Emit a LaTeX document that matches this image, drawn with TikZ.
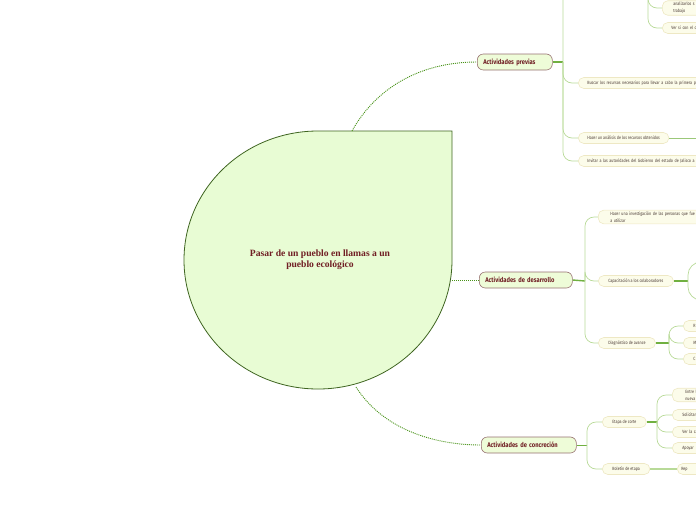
\documentclass[tikz,border=0pt]{standalone}
\usepackage{fontspec}
\setmainfont{Liberation Serif}
\newfontfamily\leaffont[FakeStretch=0.8]{Fira Sans}
\newfontfamily\branchfont[FakeStretch=0.85]{Fira Sans}
\definecolor{rootfill}{RGB}{232,252,212}
\definecolor{rootline}{RGB}{62,100,32}
\definecolor{titlered}{RGB}{112,30,36}
\definecolor{branchfill}{RGB}{238,252,216}
\definecolor{branchline}{RGB}{150,112,112}
\definecolor{leaffill}{RGB}{252,252,234}
\definecolor{leafline}{RGB}{238,232,196}
\definecolor{leaftext}{RGB}{76,60,54}
\definecolor{linkgreen}{RGB}{72,146,24}
\definecolor{stemgreen}{RGB}{112,176,64}
\definecolor{twiggreen}{RGB}{184,218,152}
\tikzset{
  root/.style   = {draw=rootline, line width=0.8pt, fill=rootfill},
  rtext/.style  = {font=\fontsize{9.6}{11}\selectfont\bfseries, text=titlered, align=center},
  branch/.style = {draw=branchline, fill=branchfill, line width=0.6pt, rounded corners=6pt,
                   anchor=west, minimum height=16pt, inner xsep=6pt, align=left,
                   font=\branchfont\fontsize{6.8}{8}\selectfont\bfseries, text=titlered},
  leaf/.style   = {draw=leafline, fill=leaffill, line width=0.6pt, rounded corners=5.5pt,
                   anchor=west, minimum height=11pt, inner xsep=9pt, inner ysep=1.5pt, align=left,
                   font=\leaffont\fontsize{4.6}{7}\selectfont, text=leaftext},
  link/.style   = {draw=linkgreen, line width=0.9pt, dash pattern=on 1pt off 1pt},
  stem/.style   = {draw=stemgreen, line width=1.4pt},
  twig/.style   = {draw=twiggreen, line width=0.7pt, rounded corners=9pt},
}

\begin{document}
\begin{tikzpicture}[x=1pt, y=-1pt]
\useasboundingbox (0,0) rectangle (696,520);
\clip (0,0) rectangle (696,520);

% ======================================================= root
\path[root] (318,131) -- (452,131) -- (452,260)
  arc[start angle=0, end angle=270, x radius=134, y radius=129] -- cycle;
\node[rtext] (title) at (320,260) {Pasar de un pueblo en llamas a un\\pueblo ecológico};
\coordinate (c-top)   at (352,131);
\coordinate (c-right) at (452,280);
\coordinate (c-bot)   at (356,387);

% ======================================================= branches
\node[branch, text width=63pt] (prev) at (477,62)  {Actividades previas};
\node[branch, text width=81pt] (dev)  at (479,280) {Actividades de desarrollo};
\node[branch, text width=83pt] (conc) at (481,445) {Actividades de concreción};

\draw[link] (c-top) .. controls (376,88) and (420,62) .. (prev.west);
\draw[link] (c-right) -- (dev.west);
\draw[link] (c-bot) .. controls (382,428) and (432,445) .. (conc.west);

% ======================================================= previas
\coordinate (fkP)  at (563,62);
\coordinate (offP) at (590,-30);
\node[leaf] (buscar)   at (578,83)  [text width=130pt] {Buscar los recursos necesarios para llevar a cabo la primera p};
\node[leaf] (analisis) at (578,138) {Hacer un análisis de los recursos obtenidos};
\node[leaf] (invitar)  at (578,161) [text width=130pt] {Invitar a las autoridades del Gobierno del estado de Jalisco a};
\coordinate (offA) at (720,138);

\draw[stem] (prev.east) -- (fkP);
\foreach \n in {offP,buscar.west,analisis.west,invitar.west}
  \draw[twig] (fkP) |- (\n);
\draw[twig, draw=stemgreen!70] (analisis.east) -- (offA);

% upper children, parent off the top edge
\coordinate (fkT) at (648,-40);
\node[leaf, inner xsep=11pt] (analiz) at (662,8)  [text width=50pt] {analizarlos s\\trabajo};
\node[leaf] (versi)  at (662,28) [text width=50pt] {Ver si con el c};
\foreach \n in {analiz,versi}
  \draw[twig] (fkT) |- (\n.west);

% ======================================================= desarrollo
\coordinate (fkV) at (585,281);
\node[leaf, inner xsep=12pt] (inves) at (598,217) [text width=100pt]
  {Hacer una investigación de las personas que fue\\a utilizar};
\node[leaf, inner xsep=10pt] (capa) at (598,281) {Capacitación a los colaboradores};
\node[leaf, inner xsep=10pt] (diag) at (598,343) {Diagnóstico de avance};

\draw[stem] (dev.east) -- (fkV);
\foreach \n in {inves,capa,diag}
  \draw[twig] (fkV) |- (\n.west);

\coordinate (fkC)   at (688,281);
\coordinate (offC1) at (706,262);
\coordinate (offC2) at (706,300);
\draw[stem] (capa.east) -- (fkC);
\draw[twig, rounded corners=13pt] (fkC) |- (offC1);
\draw[twig, rounded corners=13pt] (fkC) |- (offC2);

\coordinate (fkD) at (669,343);
\node[leaf, inner xsep=10pt] (dR) at (683,326) [text width=30pt] {R};
\node[leaf, inner xsep=10pt] (dM) at (683,343) [text width=30pt] {M};
\node[leaf, inner xsep=10pt] (dC) at (683,359) [text width=30pt] {C};
\draw[stem] (diag.east) -- (fkD);
\foreach \n in {dR,dM,dC}
  \draw[twig] (fkD) |- (\n.west);

% ======================================================= concrecion
\coordinate (fkK) at (587,445);
\node[leaf, inner xsep=10pt] (etapa)   at (602,422) {Etapa de corte};
\node[leaf, inner xsep=10pt] (boletin) at (602,469) {Boletín de etapa};
\draw[stem, line width=0.9pt] (conc.east) -- (fkK);
\foreach \n in {etapa,boletin}
  \draw[twig] (fkK) |- (\n.west);

\coordinate (fkE) at (657,422);
\node[leaf, inner xsep=13pt] (entre)  at (672,395) [text width=40pt] {Entre l\\nueva};
\node[leaf, inner xsep=10pt] (solic)  at (672,415) [text width=40pt] {Solicitar};
\node[leaf, inner xsep=10pt] (verla)  at (672,432) [text width=40pt] {Ver la ca};
\node[leaf, inner xsep=10pt] (apoyar) at (672,448) [text width=40pt] {Apoyar};
\draw[stem] (etapa.east) -- (fkE);
\foreach \n in {entre,solic,verla,apoyar}
  \draw[twig] (fkE) |- (\n.west);

\node[leaf, inner xsep=4pt] (rep) at (677,469) [text width=40pt] {Rep};
\draw[stem, draw=twiggreen] (boletin.east) -- (rep.west);

\end{tikzpicture}
\end{document}
